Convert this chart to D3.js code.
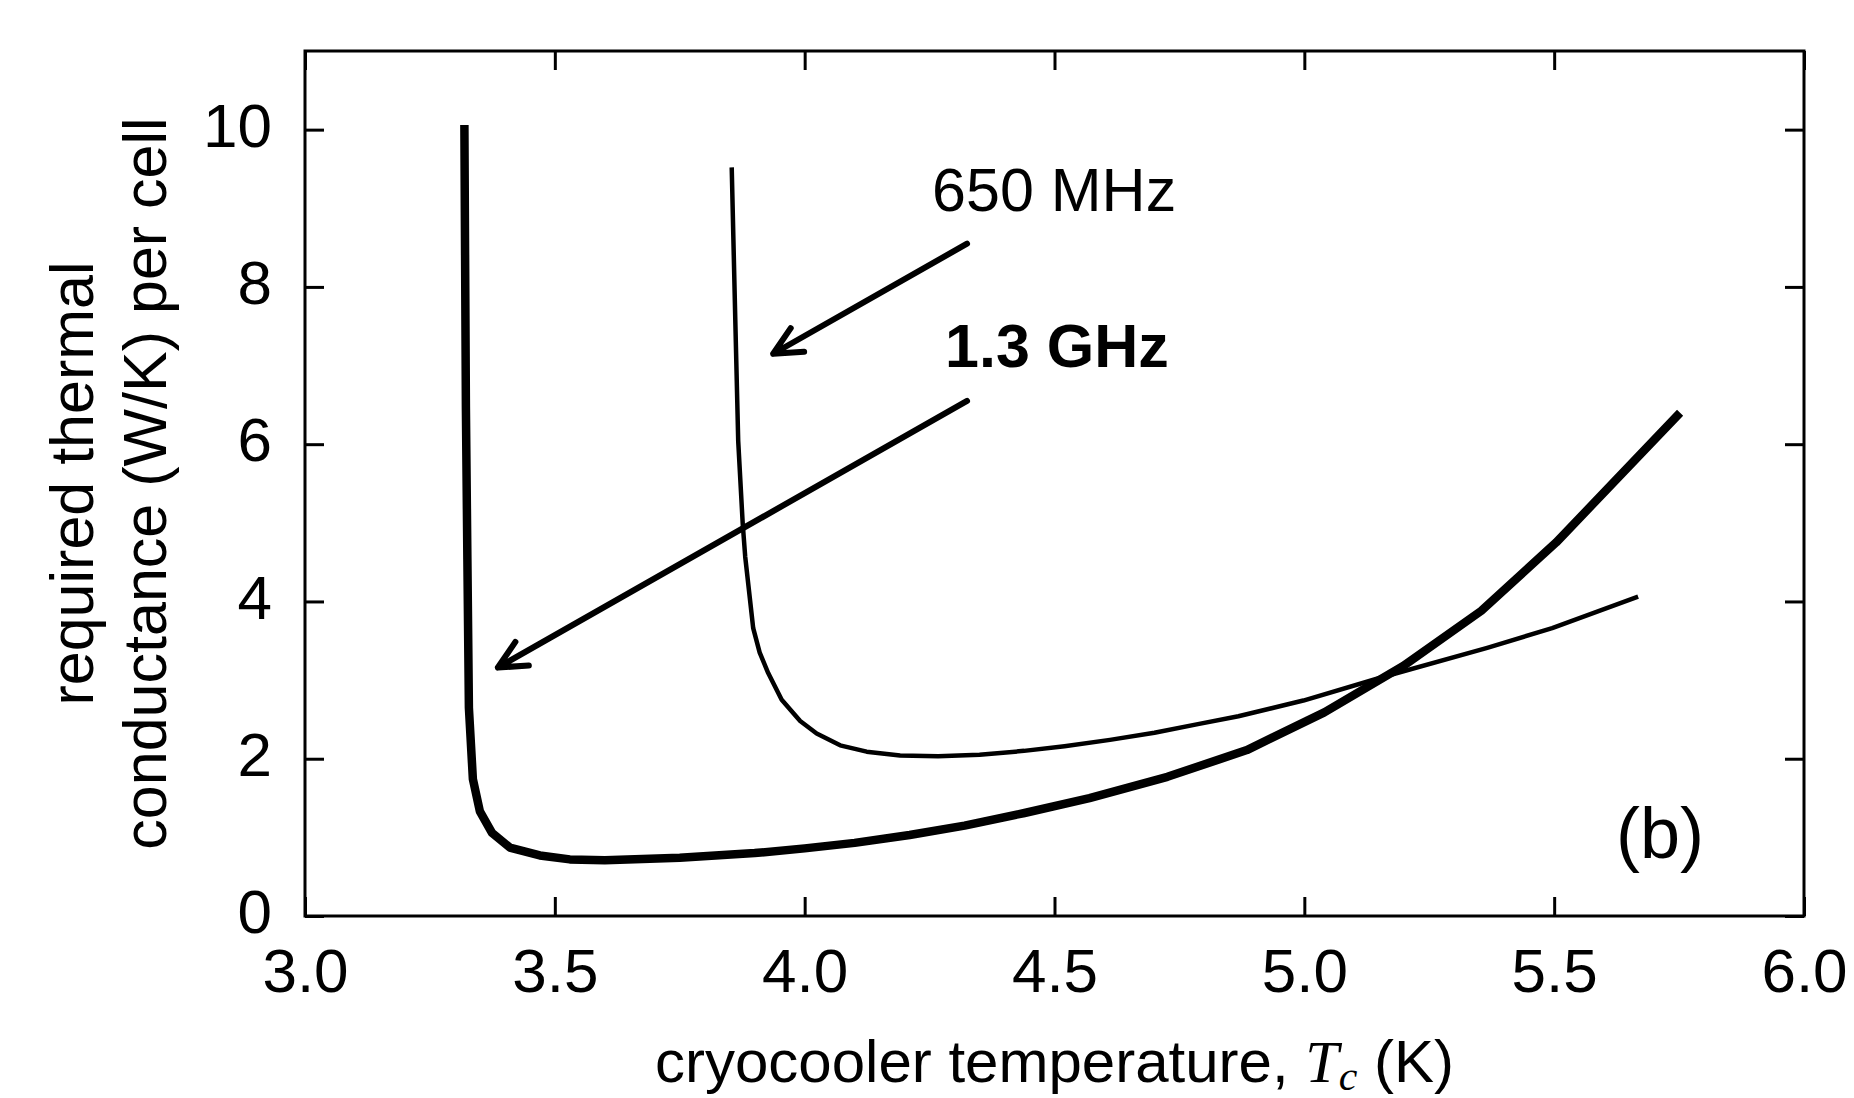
<!DOCTYPE html>
<html>
<head>
<meta charset="utf-8">
<script src="https://cdn.jsdelivr.net/npm/d3@7"></script>
<style>
body { margin: 0; background: #fff; }
text { font-family: "Liberation Sans", Arial, Helvetica, sans-serif; fill: #000; }
</style>
</head>
<body>
<div id="chart"></div>
<script>

// data

var ghz13_T = [3.319, 3.322, 3.325, 3.328, 3.336, 3.350, 3.374, 3.410, 3.470, 3.530,
               3.600, 3.750, 3.900, 4.000, 4.100, 4.210, 4.320, 4.440, 4.570, 4.726,
               4.885, 5.040, 5.198, 5.354, 5.504, 5.752];
var ghz13_G = [10.06, 6.48, 4.53, 2.65, 1.74, 1.33, 1.06, 0.87, 0.77, 0.72,
               0.71, 0.74, 0.80, 0.86, 0.93, 1.03, 1.15, 1.31, 1.50, 1.77,
               2.11, 2.59, 3.18, 3.88, 4.75, 6.40];

var mhz650_T = [3.854, 3.861, 3.867, 3.876, 3.881, 3.897, 3.910, 3.927, 3.954, 3.991,
                4.024, 4.071, 4.124, 4.191, 4.267, 4.350, 4.439, 4.520, 4.611, 4.700,
                4.787, 4.868, 4.998, 5.152, 5.366, 5.496, 5.668];
var mhz650_G = [9.52, 7.62, 6.04, 4.99, 4.57, 3.66, 3.35, 3.09, 2.75, 2.48,
                2.32, 2.17, 2.09, 2.04, 2.03, 2.05, 2.10, 2.16, 2.24, 2.33,
                2.44, 2.54, 2.74, 3.03, 3.41, 3.66, 4.06];

var x_ticks = [3.0, 3.5, 4.0, 4.5, 5.0, 5.5, 6.0];
var y_ticks = [0, 2, 4, 6, 8, 10];

var labels = ["650 MHz", "1.3 GHz", "(b)"];
var label_pos = [[4.255, 8.97], [4.281, 6.98], [5.712, 0.74]];

var arrow_from = [[4.325, 8.55], [4.325, 6.55]];
var arrow_to = [[3.937, 7.15], [3.386, 3.16]];


WIDTH = 1854;
HEIGHT = 1098;
MARGIN = { left: 305, right: 50, top: 51, bottom: 182 };
TICK = 19;
FONT = 62;


var svg = d3.select("#chart").append("svg")
    .attr("width", WIDTH)
    .attr("height", HEIGHT);

var x = d3.scaleLinear().domain([3, 6]).range([MARGIN.left, WIDTH - MARGIN.right]);
var y = d3.scaleLinear().domain([0, 11]).range([HEIGHT - MARGIN.bottom, MARGIN.top]);

function style_axis(g) {
    g.select(".domain").remove();
    g.selectAll(".tick line").attr("stroke", "#000").attr("stroke-width", 3);
    g.selectAll(".tick text").attr("font-size", FONT).attr("fill", "#000")
        .attr("font-family", "Liberation Sans, Arial, sans-serif");
}

// ticks point inward on all four sides
svg.append("g")
    .attr("transform", "translate(0," + y(0) + ")")
    .call(d3.axisBottom(x).tickValues(x_ticks).tickSize(-TICK).tickPadding(32)
          .tickFormat(d3.format(".1f")))
    .call(style_axis);

svg.append("g")
    .attr("transform", "translate(0," + y(11) + ")")
    .call(d3.axisTop(x).tickValues(x_ticks).tickSize(-TICK).tickFormat(""))
    .call(style_axis);

svg.append("g")
    .attr("transform", "translate(" + x(3) + ",0)")
    .call(d3.axisLeft(y).tickValues(y_ticks).tickSize(-TICK).tickPadding(33)
          .tickFormat(d3.format("d")))
    .call(style_axis)
    .selectAll(".tick text").attr("dy", "0.27em");

svg.append("g")
    .attr("transform", "translate(" + x(6) + ",0)")
    .call(d3.axisRight(y).tickValues(y_ticks).tickSize(-TICK).tickFormat(""))
    .call(style_axis);

// frame
svg.append("rect")
    .attr("x", x(3)).attr("y", y(11))
    .attr("width", x(6) - x(3)).attr("height", y(0) - y(11))
    .attr("fill", "none").attr("stroke", "#000").attr("stroke-width", 3);


var line = d3.line()
    .x(function (d) { return x(d[0]); })
    .y(function (d) { return y(d[1]); });

var curves = [
    { T: mhz650_T, G: mhz650_G, w: 4.5 },
    { T: ghz13_T, G: ghz13_G, w: 8.5 }
];

svg.append("g").selectAll("path")
    .data(curves).enter()
    .append("path")
    .attr("d", function (c) { return line(d3.zip(c.T, c.G)); })
    .attr("fill", "none")
    .attr("stroke", "#000")
    .attr("stroke-width", function (c) { return c.w; })
    .attr("stroke-linejoin", "round");


// arrows with open heads

function arrow_path(i) {
    var x1 = x(arrow_from[i][0]), y1 = y(arrow_from[i][1]);
    var x2 = x(arrow_to[i][0]), y2 = y(arrow_to[i][1]);
    var ang = Math.atan2(y1 - y2, x1 - x2);
    var L = 31, h = 26 * Math.PI / 180;
    return "M" + x1 + "," + y1 + "L" + x2 + "," + y2 +
        "M" + (x2 + L * Math.cos(ang + h)) + "," + (y2 + L * Math.sin(ang + h)) +
        "L" + x2 + "," + y2 +
        "L" + (x2 + L * Math.cos(ang - h)) + "," + (y2 + L * Math.sin(ang - h));
}

svg.append("g").selectAll("path")
    .data(d3.range(arrow_from.length)).enter()
    .append("path")
    .attr("d", arrow_path)
    .attr("fill", "none")
    .attr("stroke", "#000")
    .attr("stroke-width", 6)
    .attr("stroke-linecap", "round")
    .attr("stroke-linejoin", "round");


// annotations
svg.append("g").selectAll("text")
    .data(labels).enter()
    .append("text")
    .attr("x", function (d, i) { return x(label_pos[i][0]); })
    .attr("y", function (d, i) { return y(label_pos[i][1]); })
    .attr("font-size", function (d, i) { return i == 2 ? 72 : 61; })
    .attr("font-weight", function (d, i) { return i == 1 ? "bold" : "normal"; })
    .attr("text-anchor", function (d, i) { return i == 2 ? "middle" : "start"; })
    .text(function (d) { return d; });


// axis titles
var ylab = svg.append("g")
    .attr("font-size", 61)
    .attr("text-anchor", "middle");

ylab.append("text")
    .attr("transform", "translate(93," + (y(0) + y(11)) / 2 + ") rotate(-90)")
    .text("required thermal");

ylab.append("text")
    .attr("transform", "translate(166," + (y(0) + y(11)) / 2 + ") rotate(-90)")
    .text("conductance (W/K) per cell");

var xlab = svg.append("text")
    .attr("x", (x(3) + x(6)) / 2)
    .attr("y", 1082)
    .attr("font-size", 60)
    .attr("text-anchor", "middle");

xlab.append("tspan").text("cryocooler temperature, ");
xlab.append("tspan")
    .attr("font-family", "Liberation Serif, DejaVu Serif, serif")
    .attr("font-style", "italic")
    .text("T");
xlab.append("tspan")
    .attr("font-family", "Liberation Serif, DejaVu Serif, serif")
    .attr("font-style", "italic")
    .attr("font-size", 42)
    .attr("dy", 8)
    .text("c");
xlab.append("tspan")
    .attr("dy", -8)
    .text(" (K)");

</script>
</body>
</html>
